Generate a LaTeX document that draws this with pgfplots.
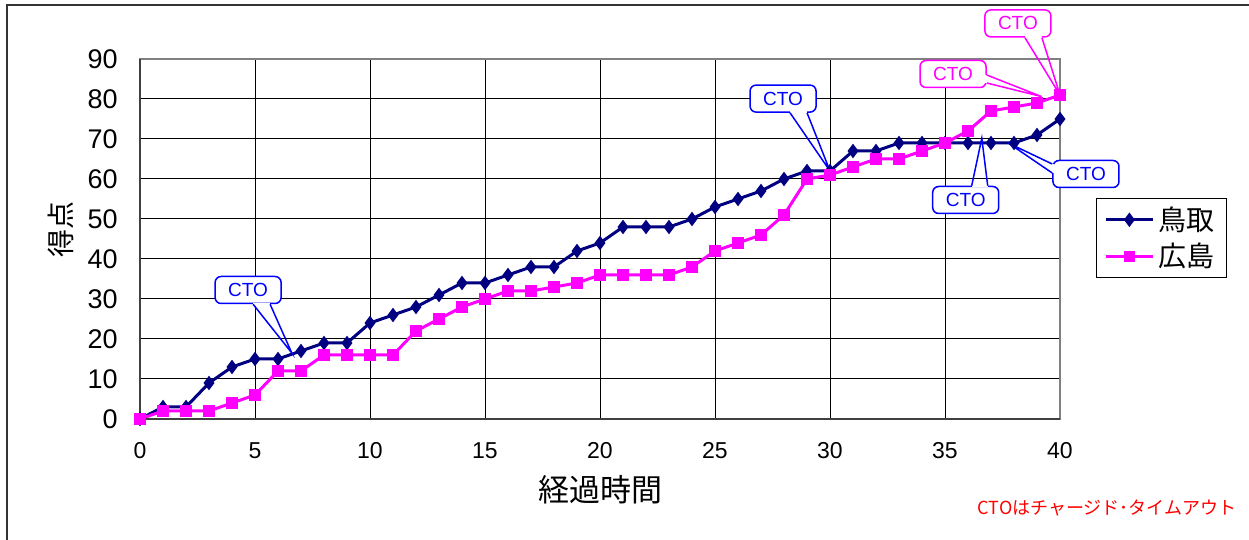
\documentclass[border=0pt]{standalone}
\usepackage{pgfplots}
\pgfplotsset{compat=1.18}
\usepackage{fontspec}
\setmainfont{Liberation Sans}
\newfontfamily\jp{Noto Sans CJK JP}
\definecolor{navy}{RGB}{0,0,128}
\definecolor{mag}{RGB}{255,0,255}
\definecolor{cblue}{RGB}{0,0,255}
\tikzset{cto/.style={rectangle, draw=#1, fill=white, text=#1, rounded corners=3pt,
  line width=0.75pt, minimum width=33pt, minimum height=13.5pt, inner sep=0pt,
  font=\fontsize{9.5}{10}\selectfont}}
% \wedge{color}{base1}{base2}{tip}
\newcommand\ctowedge[4]{%
  \draw[white, line width=1.4pt] #2 -- #3;
  \draw[#1, line width=0.75pt] #2 -- #4 -- #3;}
\begin{document}
\begin{tikzpicture}[x=0.5pt,y=0.5pt]
\path[use as bounding box] (0,0) rectangle (1249,540);
\draw[line width=1pt, black!80] (7,0) -- (7,535) -- (1249,535);
\begin{axis}[
  at={(70pt,60.5pt)}, anchor=south west, scale only axis,
  width=460pt, height=180pt,
  xmin=0, xmax=40, ymin=0, ymax=90,
  xtick={0,5,...,40}, ytick={0,10,...,90},
  grid=major, major grid style={black, line width=0.5pt},
  axis line style={draw=gray, line width=1.2pt},
  tick style={draw=none},
  /pgf/number format/assume math mode=true,
  yticklabel style={font=\fontsize{13.5}{14}\selectfont, anchor=east, inner sep=0pt, xshift=-11pt},
  xticklabel style={font=\fontsize{11.5}{12}\selectfont, anchor=center, inner sep=0pt, yshift=-16pt},
  xlabel={\jp 経過時間},
  xlabel style={font=\fontsize{15.5}{16}\selectfont, at={(axis description cs:0.5,-0.197)}, anchor=center},
  ylabel={\jp 得点},
  ylabel style={font=\fontsize{14}{14}\selectfont, at={(axis description cs:-0.086,0.525)}, anchor=center},
  clip=false,
  legend style={at={(axis description cs:1.039,0.614)}, anchor=north west, draw=black,
    line width=0.5pt, font=\jp\fontsize{14}{16}\selectfont, inner xsep=4pt, inner ysep=2pt,
    row sep=1pt, /tikz/every even column/.append style={column sep=5pt}},
  legend cell align=left,
  legend image code/.code={\draw[mark repeat=2,mark phase=2,#1] plot coordinates {(0pt,0pt) (11.75pt,0pt) (23.5pt,0pt)};},
]
\addplot[navy, line width=1.5pt, mark=diamond*, mark size=2.4pt, mark options={solid, fill=navy}] coordinates {
(0,0) (1,3) (2,3) (3,9) (4,13) (5,15) (6,15) (7,17) (8,19) (9,19) (10,24) (11,26) (12,28) (13,31) (14,34) (15,34) (16,36) (17,38) (18,38) (19,42) (20,44) (21,48) (22,48) (23,48) (24,50) (25,53) (26,55) (27,57) (28,60) (29,62) (30,62) (31,67) (32,67) (33,69) (34,69) (35,69) (36,69) (37,69) (38,69) (39,71) (40,75)};
\addlegendentry{鳥取}
\addplot[mag, line width=1.5pt, mark=square*, mark size=2.1pt, mark options={solid, fill=mag}] coordinates {
(0,0) (1,2) (2,2) (3,2) (4,4) (5,6) (6,12) (7,12) (8,16) (9,16) (10,16) (11,16) (12,22) (13,25) (14,28) (15,30) (16,32) (17,32) (18,33) (19,34) (20,36) (21,36) (22,36) (23,36) (24,38) (25,42) (26,44) (27,46) (28,51) (29,60) (30,61) (31,63) (32,65) (33,65) (34,67) (35,69) (36,72) (37,77) (38,78) (39,79) (40,81)};
\addlegendentry{広島}
\draw[black!75, line width=1.2pt] (rel axis cs:0,1) -- (rel axis cs:0,0) -- (rel axis cs:1,0);
% callout 1
\node[cto=cblue] (c1) at (axis cs:4.70,32.25) {CTO};
\ctowedge{cblue}{([xshift=2.5pt]c1.south)}{([xshift=11pt]c1.south)}{(axis cs:6.6,16.5)}
% callout 2
\node[cto=cblue] (c2) at (axis cs:27.96,80.1) {CTO};
\ctowedge{cblue}{([xshift=3.5pt]c2.south)}{([xshift=12pt]c2.south)}{(axis cs:30,62)}
% callout 3
\node[cto=mag] (c3) at (axis cs:38.17,98.9) {CTO};
\ctowedge{mag}{([xshift=3.5pt]c3.south)}{([xshift=12pt]c3.south)}{(axis cs:40,81)}
% callout 4
\node[cto=mag] (c4) at (axis cs:35.35,86.25) {CTO};
\ctowedge{mag}{([yshift=-0.5pt]c4.east)}{([yshift=-4.5pt]c4.east)}{(axis cs:39.2,80.6)}
% callout 5
\node[cto=cblue] (c5) at (axis cs:35.9,54.75) {CTO};
\ctowedge{cblue}{([xshift=3pt]c5.north)}{([xshift=11pt]c5.north)}{(axis cs:36.6,70.2)}
% callout 6
\node[cto=cblue] (c6) at (axis cs:41.13,61.25) {CTO};
\ctowedge{cblue}{([yshift=5pt]c6.west)}{([yshift=0.5pt]c6.west)}{(axis cs:37.75,69)}
\end{axis}
\node[anchor=east, text=red, font=\jp\fontsize{9}{9}\selectfont, inner sep=0pt] at (1237,32) {CTOはチャージド･タイムアウト};
\end{tikzpicture}
\end{document}
